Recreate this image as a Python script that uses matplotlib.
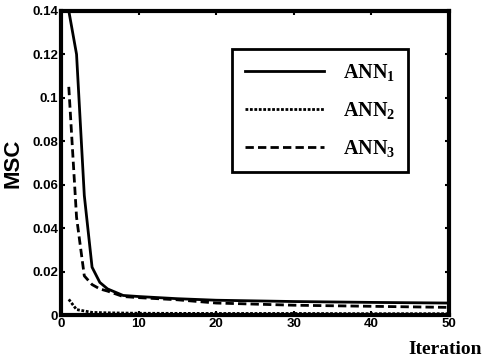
import matplotlib
matplotlib.use("Agg")
import matplotlib.pyplot as plt

# Error cuadratico medio por iteracion para cada red
it_ann1 = [1, 2, 3, 4, 5, 6, 8, 10, 15, 20, 30, 40, 50]
mse_ann1 = [0.14, 0.12, 0.055, 0.022, 0.015, 0.012, 0.009, 0.0085, 0.0075, 0.0068, 0.0062, 0.0058, 0.0055]

it_ann2 = [1, 2, 4, 6, 10, 20, 30, 40, 50]
mse_ann2 = [0.0072, 0.0025, 0.0012, 0.001, 0.0008, 0.0007, 0.0007, 0.0006, 0.0006]

it_ann3 = [1, 2, 3, 4, 5, 6, 8, 10, 15, 20, 30, 40, 50]
mse_ann3 = [0.105, 0.045, 0.018, 0.014, 0.012, 0.011, 0.0085, 0.008, 0.007, 0.0055, 0.0045, 0.004, 0.0035]

etiquetas = ['ANN$_1$', 'ANN$_2$', 'ANN$_3$']
yticks = [0, 0.02, 0.04, 0.06, 0.08, 0.1, 0.12, 0.14]
ytick_labels = ['0', '0.02', '0.04', '0.06', '0.08', '0.1', '0.12', '0.14']
xticks = [0, 10, 20, 30, 40, 50]

plt.rcParams['mathtext.fontset'] = 'custom'
plt.rcParams['mathtext.rm'] = 'Liberation Serif:bold'
plt.rcParams['mathtext.default'] = 'rm'

fig = plt.figure(figsize=(4.82, 3.6), dpi=100)
ax = fig.add_axes([0.1266, 0.125, 0.805, 0.845])

ax.plot(it_ann1, mse_ann1, color='black', lw=2.0, linestyle='-', label=etiquetas[0])
ax.plot(it_ann2, mse_ann2, color='black', lw=2.0, linestyle=(0, (1, 0.6)), label=etiquetas[1])
ax.plot(it_ann3, mse_ann3, color='black', lw=2.0, linestyle=(0, (3, 1.5)), label=etiquetas[2])

ax.set_xlim(0, 50)
ax.set_ylim(0, 0.14)
ax.set_xticks(xticks)
ax.set_yticks(yticks)
ax.set_yticklabels(ytick_labels)

for lbl in ax.get_xticklabels() + ax.get_yticklabels():
    lbl.set_fontfamily('Liberation Sans')
    lbl.set_fontweight('heavy')
    lbl.set_fontsize(9.5)

ax.tick_params(direction='in', length=3, width=1.5, top=True, right=True, pad=2)
for s in ax.spines.values():
    s.set_linewidth(3)

ax.set_ylabel('MSC', fontfamily='Liberation Sans', fontweight='bold', fontsize=16, labelpad=6)
ax.text(1.085, -0.115, 'Iteration', transform=ax.transAxes, ha='right', va='center',
        fontfamily='Liberation Serif', fontweight='bold', fontsize=14)

leg = ax.legend(loc='upper left', bbox_to_anchor=(0.441, 0.875), borderaxespad=0,
                frameon=True, fancybox=False, edgecolor='black', framealpha=1,
                handlelength=3.9, handletextpad=0.95, labelspacing=0.85, borderpad=0.65,
                prop={'family': 'Liberation Serif', 'weight': 'bold', 'size': 14.5})
leg.get_frame().set_linewidth(2)

fig.savefig('out.png', dpi=100)
